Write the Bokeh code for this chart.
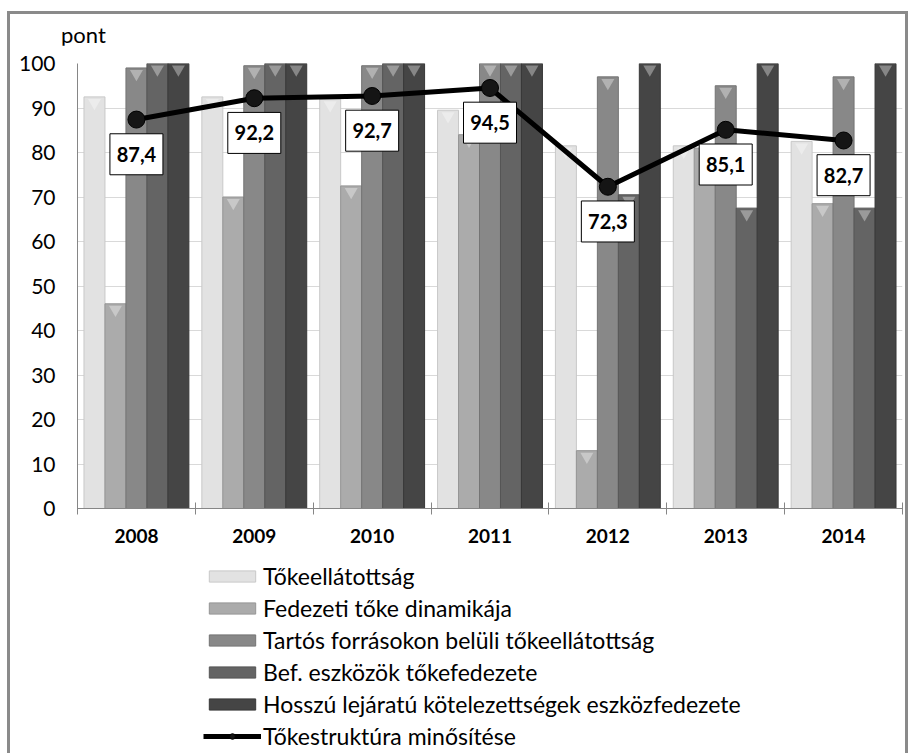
from bokeh.plotting import figure
from bokeh.layouts import column
from bokeh.models import Range1d, FixedTicker, Legend, LegendItem, ColumnDataSource, Div
from bokeh.transform import dodge
from bokeh.core.properties import value
from bokeh.embed import file_html
from bokeh.resources import INLINE

years = ["2008", "2009", "2010", "2011", "2012", "2013", "2014"]
tokeellatottsag = [92.5, 92.5, 92.0, 89.5, 81.5, 81.5, 82.5]
fedezeti_toke = [46.0, 70.0, 72.5, 84.0, 13.0, 81.0, 68.5]
tartos_forras = [99.0, 99.5, 99.5, 100.0, 97.0, 95.0, 97.0]
bef_eszkozok = [100.0, 100.0, 100.0, 100.0, 70.5, 67.5, 67.5]
hosszu_lejaratu = [100.0, 100.0, 100.0, 100.0, 100.0, 100.0, 100.0]
minosites = [87.4, 92.2, 92.7, 94.5, 72.3, 85.1, 82.7]
series_names = [
    "Tőkeellátottság",
    "Fedezeti tőke dinamikája",
    "Tartós forrásokon belüli tőkeellátottság",
    "Bef. eszközök tőkefedezete",
    "Hosszú lejáratú kötelezettségek eszközfedezete",
]
line_name = "Tőkestruktúra minősítése"
y_unit = "pont"
y_ticks = [0, 10, 20, 30, 40, 50, 60, 70, 80, 90, 100]

FONT = "Lato"
colors = ["#e2e2e2", "#ababab", "#888888", "#646464", "#454545"]
edges = ["#c8c8c8", "#959595", "#747474", "#555555", "#383838"]

n = len(years)
centers = [i + 0.5 for i in range(n)]
bounds = [i for i in range(n + 1)]

src = ColumnDataSource(dict(
    x=centers, s0=tokeellatottsag, s1=fedezeti_toke, s2=tartos_forras,
    s3=bef_eszkozok, s4=hosszu_lejaratu, m=minosites,
    lab=[f"{v:.1f}".replace(".", ",") for v in minosites],
))

head = Div(text=f'<div style="font-family:Lato;font-size:22px;line-height:20px;'
                f'color:black;padding:11px 0 0 51px;margin:0;">{y_unit}</div>',
           width=895, height=31, margin=0)

p = figure(width=895, height=515, frame_width=825, frame_height=445,
           min_border_left=67, min_border_right=3, min_border_top=18, min_border_bottom=52,
           x_range=Range1d(0, n), y_range=Range1d(0, 100),
           output_backend="svg", toolbar_location=None, tools="")

p.outline_line_color = None
p.background_fill_color = "white"

p.xgrid.visible = False
p.ygrid.ticker = FixedTicker(ticks=y_ticks)
p.ygrid.grid_line_color = "#d9d9d9"

p.yaxis.ticker = FixedTicker(ticks=y_ticks)
p.yaxis.major_tick_in = 0
p.yaxis.major_tick_out = 0
p.yaxis.minor_tick_in = 0
p.yaxis.minor_tick_out = 0
p.yaxis.axis_line_color = "#868686"
p.yaxis.major_label_text_font = FONT
p.yaxis.major_label_text_font_size = "21px"
p.yaxis.major_label_text_color = "black"
p.yaxis.major_label_standoff = 22

p.xaxis.ticker = FixedTicker(ticks=centers, minor_ticks=bounds)
p.xaxis.major_label_overrides = {c: y for c, y in zip(centers, years)}
p.xaxis.major_tick_in = 0
p.xaxis.major_tick_out = 0
p.xaxis.minor_tick_in = 6
p.xaxis.minor_tick_out = 6
p.xaxis.minor_tick_line_color = "#868686"
p.xaxis.axis_line_color = "#868686"
p.xaxis.major_label_text_font = FONT
p.xaxis.major_label_text_font_style = "bold"
p.xaxis.major_label_text_font_size = "19px"
p.xaxis.major_label_text_color = "black"
p.xaxis.major_label_standoff = 14

bw = 0.178
offsets = [-2 * bw, -bw, 0.0, bw, 2 * bw]
for k in range(5):
    p.vbar(x=dodge("x", offsets[k], range=p.x_range), top=f"s{k}", bottom=0,
           width=bw, source=src, fill_color=colors[k], line_color=edges[k], line_width=1)
    p.scatter(x=dodge("x", offsets[k], range=p.x_range), y=dodge(f"s{k}", -1.3, range=p.y_range),
              source=src, marker="inverted_triangle", size=13, fill_color="white",
              fill_alpha=0.35, line_color=None)

p.line(x="x", y="m", source=src, line_color="black", line_width=5)
p.scatter(x="x", y="m", source=src, size=17, fill_color="#151515", line_color="black")

ly = dodge("m", -7.8, range=p.y_range)
p.rect(x="x", y=ly, width=53, height=41, width_units="screen", height_units="screen",
       source=src, fill_color="white", line_color="black", line_width=1)
p.text(x="x", y=ly, text="lab", source=src, text_align="center", text_baseline="middle",
       text_font=value(FONT), text_font_style="bold", text_font_size="20px", text_color="black")

# legend figure: same glyph styles; its y range lies above all data, so only the legend shows
lf = figure(width=895, height=193, min_border=0, x_range=Range1d(0, n), y_range=Range1d(200, 300),
            x_axis_location=None, y_axis_location=None,
            output_backend="svg", toolbar_location=None, tools="")
lf.grid.visible = False
lf.outline_line_color = None
items = []
for k in range(5):
    r = lf.vbar(x="x", top=f"s{k}", bottom=0, width=bw, source=src,
                fill_color=colors[k], line_color=edges[k], line_width=1)
    items.append(LegendItem(label=series_names[k], renderers=[r]))
rl = lf.line(x="x", y="m", source=src, line_color="black", line_width=5)
rm = lf.scatter(x="x", y="m", source=src, size=17, fill_color="#151515", line_color="black")
items.append(LegendItem(label=line_name, renderers=[rl, rm]))
legend = Legend(items=items, location=(126, 3), orientation="vertical",
                glyph_width=58, glyph_height=14, label_height=20, spacing=4,
                label_standoff=2, padding=0, margin=0,
                border_line_color=None, background_fill_alpha=0,
                label_text_font=FONT, label_text_font_size="23px", label_text_color="black")
lf.add_layout(legend, "center")

layout = column(head, p, lf, spacing=0)
layout.styles = {"border-top": "3px solid #8a8a8a", "border-left": "3px solid #8a8a8a",
                 "border-right": "3px solid #8a8a8a", "margin-left": "7px", "margin-top": "11px"}

open("out.html", "w").write(file_html(layout, INLINE))
